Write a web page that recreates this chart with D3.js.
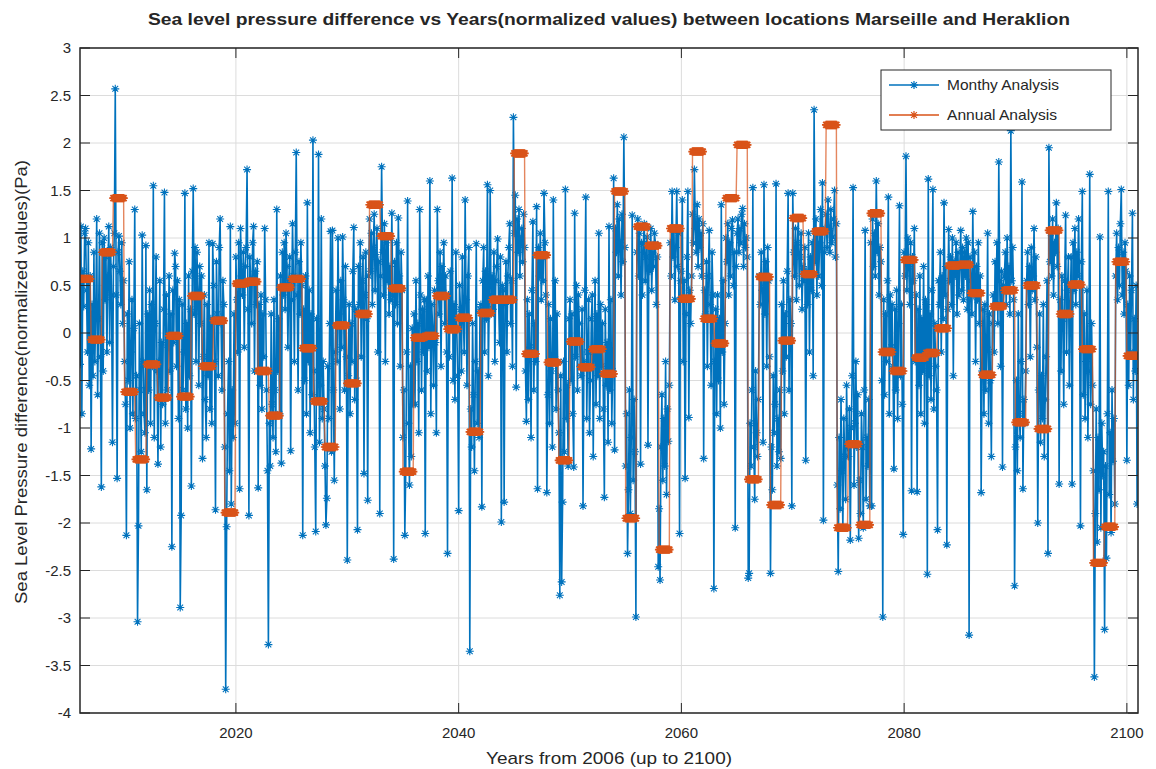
<!DOCTYPE html>
<html>
<head>
<meta charset="utf-8">
<script src="https://cdn.jsdelivr.net/npm/d3@7"></script>
<style>
  html, body { margin: 0; padding: 0; background: #ffffff; }
  svg { display: block; }
  text { font-family: "Liberation Sans", Arial, Helvetica, sans-serif; fill: #262626; }
</style>
</head>
<body>
<svg id="chart" width="1156" height="769"></svg>
<script>
// ---------------- DATA ----------------
const startYear = 2006;
const endYear = 2100;
const xTicks = [2020, 2040, 2060, 2080, 2100];
const yTicks = [-4, -3.5, -3, -2.5, -2, -1.5, -1, -0.5, 0, 0.5, 1, 1.5, 2, 2.5, 3];
const yTickLabels = ["-4", "-3.5", "-3", "-2.5", "-2", "-1.5", "-1", "-0.5", "0", "0.5", "1", "1.5", "2", "2.5", "3"];
const seriesNames = ["Monthy Analysis", "Annual Analysis"];

// annual (normalized) values, one per year 2006..2100
const annualValues = [
  0.57, -0.07, 0.85, 1.42, -0.62, -1.33, -0.33, -0.68, -0.03, -0.67,
  0.39, -0.35, 0.13, -1.89, 0.52, 0.54, -0.40, -0.87, 0.48, 0.57,
  -0.16, -0.72, -1.20, 0.08, -0.53, 0.20, 1.35, 1.02, 0.47, -1.46,
  -0.05, -0.03, 0.39, 0.04, 0.16, -1.04, 0.21, 0.35, 0.35, 1.89,
  -0.22, 0.82, -0.31, -1.34, -0.09, -0.36, -0.17, -0.43, 1.49, -1.95,
  1.12, 0.92, -2.28, 1.10, 0.36, 1.91, 0.15, -0.11, 1.42, 1.98,
  -1.54, 0.59, -1.81, -0.08, 1.21, 0.62, 1.07, 2.19, -2.05, -1.17,
  -2.02, 1.26, -0.20, -0.40, 0.77, -0.26, -0.21, 0.05, 0.71, 0.72,
  0.42, -0.44, 0.28, 0.45, -0.94, 0.50, -1.01, 1.08, 0.20, 0.51,
  -0.17, -2.42, -2.04, 0.75, -0.24
];

// monthly (normalized) values, 12 per year, Jan 2006 .. Dec 2100
const monthlyValues = [
  -0.33, 1.12, -0.85, 0.65, 0.28, 1.05, 1.10, 0.45, -0.20, 0.95, -0.55, 0.60,   // 2006
  -1.22, 0.30, -0.45, 0.85, -0.30, 0.20, 1.20, -0.65, 0.15, 1.05, -0.25, -1.62, // 2007
  0.95, -0.40, 1.00, 0.35, 0.80, -0.20, 0.60, 1.12, -0.10, 0.90, 0.40, -1.15,   // 2008
  0.70, 1.05, 2.57, 0.40, -1.53, 0.85, 1.02, 0.65, 0.30, 0.95, 0.10, 0.55,      // 2009
  -0.30, -0.75, -2.13, 0.20, -0.50, 0.75, -1.00, -0.20, 0.35, -0.85, 0.05, 1.30, // 2010
  -0.90, -0.45, -3.04, -2.03, 0.10, -0.60, -1.25, 1.03, -0.30, -0.85, -1.05, 0.92, // 2011
  -1.65, 0.20, -0.60, 0.45, -0.95, 0.30, -0.35, 1.55, -1.10, 0.10, 0.80, -0.40, // 2012
  -1.38, -0.30, 0.55, -1.20, -0.10, -0.75, 0.25, 1.48, -0.95, 0.40, -0.60, -0.15, // 2013
  0.60, -0.40, 0.20, -2.25, 0.45, -0.10, 0.84, 0.70, -0.35, 0.55, -0.90, 0.35,  // 2014
  -2.89, -1.92, 0.30, -0.60, -0.20, 1.47, -0.80, 0.10, -1.00, 0.60, -0.45, 0.25, // 2015
  -1.61, 0.65, 1.52, 0.20, 0.90, -0.30, 0.85, 0.45, -0.55, 0.70, 0.10, 0.60,    // 2016
  -1.32, -0.25, 0.40, -0.70, -1.10, 0.30, -0.45, 0.95, -0.80, 0.15, -0.95, 0.94, // 2017
  0.50, -0.30, -1.86, 0.75, 0.20, -0.45, 0.90, 1.20, 0.10, -0.60, 0.55, 0.30,   // 2018
  -1.20, -3.75, -2.04, -0.85, -0.30, -1.45, 1.12, -1.80, -0.60, -1.10, 0.20, -0.95, // 2019
  0.80, 0.35, -0.20, 0.95, -1.64, 1.10, 0.60, 0.40, 0.85, -0.15, 0.70, 0.90,    // 2020
  1.72, 0.25, -1.92, 0.80, 0.55, 0.10, 0.95, 1.12, -0.40, 0.65, 0.30, 0.75,     // 2021
  -1.63, 0.30, -0.55, 0.40, -0.80, 0.20, -0.25, 1.10, 0.35, -0.60, -1.45, -3.28, // 2022
  -0.95, -1.40, 0.20, -0.75, -1.10, 0.35, -0.60, -1.25, 1.30, -0.40, 0.15, -0.85, // 2023
  0.60, -1.37, 0.85, 0.40, 0.95, 0.25, 1.05, 0.70, -0.15, 0.55, 0.80, -1.24,    // 2024
  0.35, 1.15, 0.60, -0.30, 0.85, 1.90, 0.40, -0.60, 0.75, 0.20, 0.95, 0.50,     // 2025
  -2.13, 0.25, -0.50, 0.60, -0.85, 1.37, -0.30, 0.45, -1.05, 0.20, -0.65, 2.03, // 2026
  -0.40, -1.20, -2.09, 0.15, -0.70, 1.88, -1.15, -0.55, 1.20, -0.90, -0.30, -0.80, // 2027
  -1.40, -2.02, -1.74, -0.35, -0.90, 0.10, 1.07, -1.25, 1.08, -0.60, -1.55, -0.20, // 2028
  0.45, -0.30, 1.00, 0.20, -0.80, 0.55, -0.15, 1.01, 0.35, -0.60, 0.70, -0.25,  // 2029
  -2.39, -0.45, 0.30, -0.85, 0.10, -0.30, 0.65, 1.11, -0.70, 0.25, -0.50, -2.07, // 2030
  0.70, 0.30, 0.95, -0.25, 0.55, 0.80, -1.48, 0.40, 0.85, 0.15, -1.76, 0.60,    // 2031
  1.20, 0.65, 1.05, 0.30, 0.90, 1.25, 0.45, 0.80, 1.10, -0.20, 0.75, -1.90,     // 2032
  0.60, 1.75, 0.85, 0.40, 1.15, -0.30, 0.95, 0.55, 1.00, 0.20, 0.70, 0.35,      // 2033
  1.26, 0.40, -2.38, 0.75, 0.30, 0.95, 0.10, 1.21, 0.60, -0.35, 0.85, 0.45,     // 2034
  -1.10, -0.60, -2.13, -1.45, -0.20, 1.39, -0.95, -1.60, -0.35, -1.30, 0.05, -0.75, // 2035
  0.20, -0.75, 0.55, -0.30, 0.10, -1.05, 1.30, 0.40, -0.60, 0.25, -0.20, 0.35,  // 2036
  -2.11, 0.35, -0.40, 0.60, -0.15, 1.60, -0.85, 0.30, 0.05, -0.55, 0.45, -0.10, // 2037
  -1.05, 1.30, 0.55, 0.20, 0.85, -0.35, 0.70, 0.45, 0.95, 0.10, 0.60, -0.20,    // 2038
  -2.32, 0.40, -0.25, 0.65, 0.10, 1.63, -0.50, 0.30, -0.70, 0.85, 0.05, -0.45,  // 2039
  -1.87, 0.50, 0.25, -0.40, 0.80, 0.15, -0.20, 1.40, 0.35, -0.55, 0.60, 0.90,   // 2040
  -3.35, -0.80, -1.20, 0.10, -0.65, -1.45, -0.30, 0.94, -0.95, -0.40, -1.10, 0.25, // 2041
  0.30, -1.83, 0.55, 0.90, -0.20, 0.65, 0.15, 1.56, -0.45, 0.40, 1.50, 0.20,    // 2042
  0.60, 0.25, 0.85, -0.30, 0.55, 0.70, 0.99, 0.35, -0.10, 0.80, -1.99, 0.50,    // 2043
  0.45, -1.78, 0.30, 0.75, -0.20, 0.60, 0.90, 1.15, 0.10, 0.55, -0.35, 2.27,    // 2044
  1.05, 1.45, -0.57, 1.20, 0.85, 1.30, 0.60, 0.99, 1.10, 0.75, 1.25, 0.90,      // 2045
  -0.40, -0.93, 0.35, -0.70, 0.20, -0.15, -1.10, 0.45, 1.17, -0.60, 0.10, -0.30, // 2046
  1.33, -1.64, 0.90, 0.60, 1.05, 0.35, 0.80, 0.55, 1.47, 0.95, 0.40, -1.68,     // 2047
  -0.65, 0.30, -0.95, 0.15, -0.40, -1.20, 1.40, -0.25, 0.55, -0.80, 0.20, -0.60, // 2048
  -1.05, -2.76, -0.45, -2.62, -1.78, -0.30, -1.25, 1.51, -0.90, -0.55, -1.40, 0.15, // 2049
  0.35, -0.50, 0.20, -0.85, -1.41, 1.26, -0.25, 0.50, -0.60, 0.40, 0.10, -0.35, // 2050
  -0.45, 0.25, -1.82, -0.30, 0.45, 1.43, -0.90, -0.20, 0.35, -1.05, -0.50, 0.15, // 2051
  0.40, -1.30, -0.20, 0.55, -0.75, 0.20, -0.45, 1.05, -0.90, 0.30, -0.35, 0.10, // 2052
  -0.80, -1.73, 0.25, -0.55, -0.10, -1.15, 1.12, -0.60, 0.35, -0.95, -0.40, 1.63, // 2053
  -1.23, 1.10, 0.85, 1.35, 0.60, 1.20, 0.95, 0.40, 1.25, 0.75, 2.06, 0.90,      // 2054
  -1.40, -0.85, -2.32, -1.65, -0.60, -1.90, -1.10, 1.24, -1.55, -0.70, -1.25, -2.99, // 2055
  0.85, 1.20, 0.60, 1.05, -1.38, 0.95, 0.40, 0.94, 1.15, 0.55, 0.80, 1.01,      // 2056
  -1.18, 0.90, 0.65, 1.10, 0.45, 0.85, 0.70, 1.05, 0.94, 0.30, 0.80, -2.46,     // 2057
  -1.85, -2.60, -1.20, -0.65, -1.55, -0.90, -1.40, -0.30, -1.70, -0.80, -1.14, -0.55, // 2058
  0.95, 0.60, 1.49, 0.80, 1.10, 0.35, 0.90, 1.49, 0.70, 1.05, -2.11, 0.55,      // 2059
  0.65, 1.40, -0.30, 0.55, -1.53, 0.20, 0.80, 1.49, -0.89, 0.45, 0.10, 0.60,    // 2060
  1.25, 0.95, 1.72, 1.10, 0.85, 1.35, 0.70, 1.20, 0.90, 1.05, 0.60, 1.15,       // 2061
  -1.32, 0.45, 0.20, 0.75, -0.35, 0.60, 1.08, 0.30, -0.55, 0.85, 0.40, -2.69,   // 2062
  -0.30, 0.25, -0.85, 0.40, -0.50, 0.15, -1.00, 1.35, -0.20, 0.55, -0.75, 0.10, // 2063
  1.00, 0.75, 1.15, 0.40, 0.95, 0.60, 1.10, 1.19, 0.50, 0.85, -2.05, 0.70,      // 2064
  1.05, 1.20, 0.85, 1.10, 0.95, 1.25, 1.31, 0.70, 1.15, 0.90, 1.00, 0.80,       // 2065
  -2.58, -2.53, -0.95, -1.40, -0.60, 1.53, -1.20, -1.75, -0.40, -1.05, -1.30, -0.70, // 2066
  0.60, 0.30, 0.85, 0.45, -1.15, 1.56, 0.20, 0.75, -0.35, 0.90, 0.55, -0.25,    // 2067
  -2.53, -1.20, -1.65, -0.45, -1.05, -0.75, 1.57, -1.40, -0.90, -1.25, -0.60, -1.32, // 2068
  0.30, -0.40, 0.55, -0.85, 0.20, -0.25, 0.65, 1.47, -0.60, 0.35, 0.10, -1.82,  // 2069
  1.47, 0.85, 0.60, 1.10, 0.35, 0.95, 1.20, 0.50, 0.80, 1.05, 0.25, 0.70,       // 2070
  0.55, 0.90, -1.34, 0.65, 0.30, 1.05, -0.20, 0.80, 0.45, 0.95, -0.45, 2.35,    // 2071
  0.75, 1.20, 0.40, 1.05, 0.60, 0.95, 1.30, 0.50, 1.58, -1.97, 0.85, 1.10,      // 2072
  1.25, 0.90, 1.40, 1.10, 0.85, 1.30, 0.95, 1.01, 1.20, 1.50, 0.80, 1.15,       // 2073
  -1.60, -2.51, -1.10, -1.85, -0.70, -1.45, -2.05, -0.90, -1.30, -1.75, -0.55, -1.20, // 2074
  -1.30, -0.80, -2.18, -1.00, -0.45, 1.53, -1.60, -0.95, -0.30, -1.20, -0.65, -2.16, // 2075
  -1.55, -1.90, -0.85, -1.20, -2.05, -0.60, 1.08, -1.75, -1.10, -1.40, -0.70, -1.82, // 2076
  0.95, -1.82, 1.20, 0.70, 1.05, 0.60, 1.60, 0.85, 1.15, 0.40, 0.90, 0.75,      // 2077
  -0.50, -2.99, 0.35, -0.65, 0.20, -0.30, 0.55, 1.43, -0.85, 0.40, -0.15, 0.30, // 2078
  -0.35, -1.43, 0.25, -0.60, 0.45, -0.90, 0.10, 1.34, -0.45, 0.30, -0.75, -2.12, // 2079
  0.85, 0.60, 1.86, 0.45, 1.00, 0.70, 0.30, 0.95, -1.66, 0.80, 0.55, 1.10,      // 2080
  -0.30, 0.40, -1.67, 0.25, -0.55, 0.60, -0.85, 0.15, -0.40, 0.70, -0.95, 0.35, // 2081
  0.30, -2.54, 1.62, -0.45, 0.20, -0.70, 0.45, 1.51, -0.80, 0.10, -0.35, -0.60, // 2082
  -2.07, 0.55, 0.30, 0.85, -0.20, 0.60, 0.15, 1.37, 0.40, 0.70, -2.23, 0.25,    // 2083
  1.09, 0.55, 0.80, 0.30, 1.00, -0.45, 0.75, 0.60, 0.95, 0.20, 0.85, 0.40,      // 2084
  0.70, 1.08, 0.45, 0.90, 0.35, 0.85, 0.60, 1.00, 0.25, 0.95, -3.18, 0.80,      // 2085
  0.55, 0.20, 1.28, 0.40, 0.85, -0.30, 0.70, 0.35, 0.95, 0.10, 0.60, -1.68,     // 2086
  -0.40, 0.25, -0.85, 0.30, -0.60, -0.15, 1.05, -0.95, 0.20, -0.50, -1.30, 0.10, // 2087
  0.40, -0.20, 0.75, 0.30, 0.95, 0.10, 1.80, 0.55, -0.35, 0.65, -1.41, 0.50,    // 2088
  0.60, 0.85, 0.30, 1.00, 0.45, 0.70, 0.20, 2.13, 0.55, 0.90, 0.35, -2.66,      // 2089
  -1.20, -0.50, -1.45, 0.20, -0.85, -1.10, -0.30, 1.59, -1.64, -0.70, -0.95, -0.40, // 2090
  0.55, 0.85, 0.30, 0.70, -0.25, 0.90, 0.45, 0.60, 1.10, 0.35, 0.80, -0.15,     // 2091
  -2.00, -0.60, 0.20, -1.15, -0.45, -0.90, 0.30, -1.30, -0.70, -0.25, 0.55, -2.32, // 2092
  1.95, 0.75, 1.05, 0.60, 1.20, 0.40, 0.95, 0.85, 1.37, 0.70, 1.10, -1.59,      // 2093
  0.35, -0.40, 0.60, 0.15, -0.75, 0.55, 1.24, -0.20, 0.45, 0.80, -0.55, 0.30,   // 2094
  0.80, -1.59, 0.95, 0.45, 1.10, 0.30, 0.85, 0.60, 1.20, 0.50, -2.03, 0.75,     // 2095
  1.49, -0.65, 0.20, -0.90, -0.30, 0.45, -1.10, -0.40, 1.67, -0.75, 0.10, -0.55, // 2096
  -1.45, -3.62, -1.90, -0.80, -2.20, -1.10, -1.65, 1.01, -2.05, -0.95, -1.50, -1.25, // 2097
  -3.12, -1.40, -2.37, -0.85, 1.49, -1.70, -1.05, -2.10, -0.60, -1.35, -0.90, -1.80, // 2098
  0.60, 1.05, 0.35, 0.90, 0.50, 1.15, 1.51, 0.40, 0.85, 0.20, 0.95, 0.65,       // 2099
  -1.34, 0.30, -0.55, 0.60, -0.20, 0.45, 1.26, -0.70, 0.15, -0.40, 0.50, -1.80  // 2100
];

// ---------------- CHART ----------------
const W = 1156, H = 769;
const plot = { left: 80, right: 1138, top: 48, bottom: 713 };
const blue = "#0072BD", orange = "#D95319", axisColor = "#262626";

const svg = d3.select("#chart");
svg.append("rect").attr("width", W).attr("height", H).attr("fill", "#fff");

const x = d3.scaleLinear().domain([startYear, endYear + 1]).range([plot.left, plot.right]);
const y = d3.scaleLinear().domain([-4, 3]).range([plot.bottom, plot.top]);

// grid
const grid = svg.append("g");
grid.selectAll("line.gx").data(xTicks).join("line")
  .attr("x1", d => x(d)).attr("x2", d => x(d))
  .attr("y1", plot.top).attr("y2", plot.bottom)
  .attr("stroke", "#dcdcdc").attr("stroke-width", 1);
grid.selectAll("line.gy").data(yTicks).join("line")
  .attr("x1", plot.left).attr("x2", plot.right)
  .attr("y1", d => y(d)).attr("y2", d => y(d))
  .attr("stroke", "#dcdcdc").attr("stroke-width", 1);

// data
const monthly = monthlyValues.map((v, i) => ({ t: startYear + i / 12, v }));
const annual = [];
annualValues.forEach((v, k) => {
  for (let m = 0; m < 12; m++) annual.push({ t: startYear + k + m / 12, v });
});

const clipId = "plotclip";
svg.append("clipPath").attr("id", clipId).append("rect")
  .attr("x", plot.left).attr("y", plot.top)
  .attr("width", plot.right - plot.left).attr("height", plot.bottom - plot.top);

const line = d3.line().x(d => x(d.t)).y(d => y(d.v));
const star = r => {
  const d = r * 0.72;
  return `M${-r},0H${r}M0,${-r}V${r}M${-d},${-d}L${d},${d}M${-d},${d}L${d},${-d}`;
};

const dataG = svg.append("g").attr("clip-path", `url(#${clipId})`);
dataG.append("path").datum(monthly)
  .attr("d", line).attr("fill", "none").attr("stroke", blue).attr("stroke-width", 1.6);
dataG.append("g").selectAll("path").data(monthly).join("path")
  .attr("transform", d => `translate(${x(d.t)},${y(d.v)})`)
  .attr("d", star(4)).attr("stroke", blue).attr("stroke-width", 1.1).attr("fill", "none");

dataG.append("path").datum(annual)
  .attr("d", line).attr("fill", "none").attr("stroke", orange).attr("stroke-width", 1.4)
  .attr("stroke-opacity", 0.7);
dataG.append("g").selectAll("path").data(annual).join("path")
  .attr("transform", d => `translate(${x(d.t)},${y(d.v)})`)
  .attr("d", star(4.2)).attr("stroke", orange).attr("stroke-width", 1.7).attr("fill", "none");

// axes (MATLAB style: ticks inside, box on)
const tickLen = 10;
const axG = svg.append("g").attr("stroke", axisColor).attr("stroke-width", 1);
axG.selectAll("line.bt").data(xTicks).join("line")
  .attr("x1", d => x(d)).attr("x2", d => x(d))
  .attr("y1", plot.bottom).attr("y2", plot.bottom - tickLen);
axG.selectAll("line.tt").data(xTicks).join("line")
  .attr("x1", d => x(d)).attr("x2", d => x(d))
  .attr("y1", plot.top).attr("y2", plot.top + tickLen);
axG.selectAll("line.lt").data(yTicks).join("line")
  .attr("x1", plot.left).attr("x2", plot.left + tickLen)
  .attr("y1", d => y(d)).attr("y2", d => y(d));
axG.selectAll("line.rt").data(yTicks).join("line")
  .attr("x1", plot.right).attr("x2", plot.right - tickLen)
  .attr("y1", d => y(d)).attr("y2", d => y(d));
svg.append("rect")
  .attr("x", plot.left).attr("y", plot.top)
  .attr("width", plot.right - plot.left).attr("height", plot.bottom - plot.top)
  .attr("fill", "none").attr("stroke", axisColor).attr("stroke-width", 1.5);

// tick labels
svg.append("g").selectAll("text").data(xTicks).join("text")
  .attr("x", d => x(d)).attr("y", plot.bottom + 25)
  .attr("text-anchor", "middle").attr("font-size", 15)
  .text(d => String(d));
svg.append("g").selectAll("text").data(yTicks).join("text")
  .attr("x", plot.left - 9).attr("y", d => y(d) + 5)
  .attr("text-anchor", "end").attr("font-size", 15)
  .text((d, i) => yTickLabels[i]);

// labels
svg.append("text")
  .attr("x", 609).attr("y", 25)
  .attr("text-anchor", "middle").attr("font-size", 17).attr("font-weight", "bold")
  .attr("fill", "#000")
  .attr("textLength", 922).attr("lengthAdjust", "spacingAndGlyphs")
  .text("Sea level pressure difference vs Years(normalized values) between locations Marseille and Heraklion");
svg.append("text")
  .attr("x", 609).attr("y", 764)
  .attr("text-anchor", "middle").attr("font-size", 17)
  .attr("textLength", 246).attr("lengthAdjust", "spacingAndGlyphs")
  .text("Years from 2006 (up to 2100)");
svg.append("text")
  .attr("transform", `translate(27,382) rotate(-90)`)
  .attr("text-anchor", "middle").attr("font-size", 17)
  .attr("textLength", 444).attr("lengthAdjust", "spacingAndGlyphs")
  .text("Sea Level Pressure difference(normalized values)(Pa)");

// legend
const lg = svg.append("g");
lg.append("rect").attr("x", 881).attr("y", 70).attr("width", 230).attr("height", 60)
  .attr("fill", "#fff").attr("stroke", axisColor).attr("stroke-width", 1);
const legendColors = [blue, orange];
const legendTextLen = [112, 110];
seriesNames.forEach((name, i) => {
  const ly = 85 + i * 30;
  lg.append("line").attr("x1", 889).attr("x2", 939).attr("y1", ly).attr("y2", ly)
    .attr("stroke", legendColors[i]).attr("stroke-width", 1.4);
  lg.append("path").attr("transform", `translate(914,${ly})`).attr("d", star(4))
    .attr("stroke", legendColors[i]).attr("stroke-width", 1.2).attr("fill", "none");
  lg.append("text").attr("x", 947).attr("y", ly + 5).attr("font-size", 15)
    .attr("textLength", legendTextLen[i]).attr("lengthAdjust", "spacingAndGlyphs")
    .text(name);
});
</script>
</body>
</html>
